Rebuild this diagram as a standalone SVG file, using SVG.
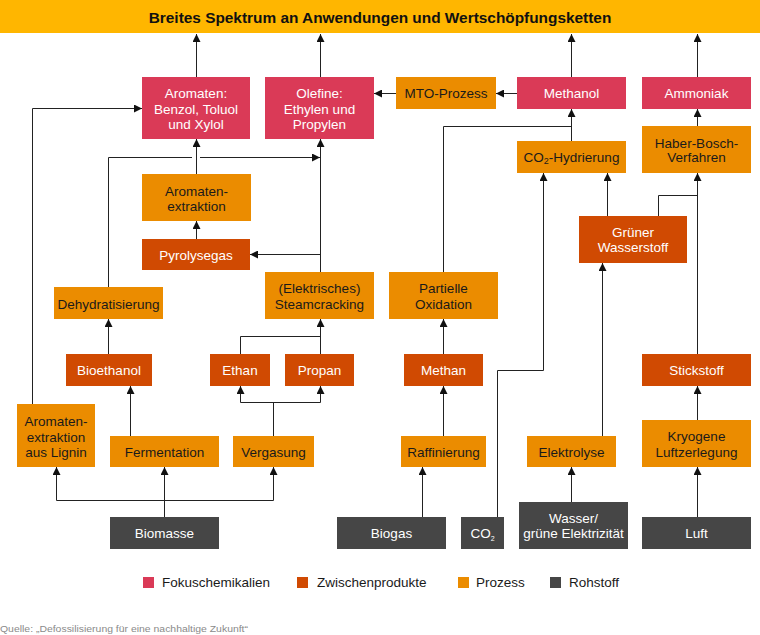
<svg xmlns="http://www.w3.org/2000/svg" width="760" height="635" viewBox="0 0 760 635">
<defs>
<marker id="ah" viewBox="0 0 8 8" refX="8" refY="4" markerWidth="8" markerHeight="8" markerUnits="userSpaceOnUse" orient="auto">
<path d="M0,0 L8,4 L0,8 z" fill="#111"/>
</marker>
<style>
text{font-family:"Liberation Sans",Arial,sans-serif;font-size:13.5px;text-anchor:middle}
.fo{fill:#DA3A57}
.zw{fill:#D04A02}
.pr{fill:#EB8C00}
.ro{fill:#464646}
.w{fill:#fff}
.d{fill:#1a1a1a}
#connectors path{fill:none;stroke:#222;stroke-width:1}
.arr{marker-end:url(#ah)}
</style>
</defs>
<rect x="0" y="0" width="760" height="33" fill="#FFB600"/>
<text x="380" y="22.5" style="font-size:15.4px;font-weight:bold" fill="#111">Breites Spektrum an Anwendungen und Wertschöpfungsketten</text>

<g id="connectors">
<path class="arr" d="M196.5,77 V34"/>
<path class="arr" d="M320.5,77 V34"/>
<path class="arr" d="M571.5,77 V34"/>
<path class="arr" d="M697.5,77 V34"/>
<path class="arr" d="M396,93.5 H374"/>
<path class="arr" d="M517,93.5 H496"/>
<path class="arr" d="M571.5,141 V109"/>
<path d="M443.5,272 V126.5 H571.5"/>
<path class="arr" d="M697.5,126 V109"/>
<path class="arr" d="M607.5,216 V173"/>
<path d="M658.5,216 V195.5 H697.5"/>
<path class="arr" d="M697.5,354 V173"/>
<path class="arr" d="M497.5,517 V370.5 H543.5 V173"/>
<path class="arr" d="M602.5,436 V263"/>
<path class="arr" d="M571.5,502 V467"/>
<path class="arr" d="M697.5,517 V467"/>
<path class="arr" d="M697.5,420 V386"/>
<path class="arr" d="M422.5,517 V467"/>
<path class="arr" d="M443.5,436 V386"/>
<path class="arr" d="M443.5,354 V319"/>
<path class="arr" d="M196.5,174 V139"/>
<path class="arr" d="M196.5,239 V221"/>
<path class="arr" d="M320.5,272 V139"/>
<path class="arr" d="M320.5,254.5 H250"/>
<path d="M108.5,287 V157.5 H192"/>
<path class="arr" d="M200,157.5 H320"/>
<path class="arr" d="M32.5,404 V108.5 H142"/>
<path class="arr" d="M108.5,354 V319"/>
<path class="arr" d="M130.5,436 V386"/>
<path d="M240.5,354 V336.5 H320.5"/>
<path class="arr" d="M320.5,354 V319"/>
<path d="M273.5,436 V402.5"/>
<path d="M240.5,402.5 H320.5"/>
<path class="arr" d="M240.5,402.5 V386"/>
<path class="arr" d="M320.5,402.5 V386"/>
<path class="arr" d="M164.5,517 V467"/>
<path d="M56.5,500.5 H273.5"/>
<path class="arr" d="M56.5,500.5 V467"/>
<path class="arr" d="M273.5,500.5 V467"/>
</g>

<g id="aromaten"><rect class="fo" x="142" y="77" width="108" height="62"/>
<text class="w" x="196" y="98">Aromaten:</text><text class="w" x="196" y="113.5">Benzol, Toluol</text><text class="w" x="196" y="129">und Xylol</text></g>
<g id="olefine"><rect class="fo" x="265" y="77" width="109" height="62"/>
<text class="w" x="319.5" y="98">Olefine:</text><text class="w" x="319.5" y="113.5">Ethylen und</text><text class="w" x="319.5" y="129">Propylen</text></g>
<g id="mto"><rect class="pr" x="396" y="77" width="100" height="32"/>
<text class="d" x="446" y="98">MTO-Prozess</text></g>
<g id="methanol"><rect class="fo" x="517" y="77" width="109" height="32"/>
<text class="w" x="571.5" y="98">Methanol</text></g>
<g id="ammoniak"><rect class="fo" x="642" y="77" width="109" height="32"/>
<text class="w" x="696.5" y="98">Ammoniak</text></g>
<g id="co2hydrierung"><rect class="pr" x="517" y="141" width="109" height="32"/>
<text class="d" x="571.5" y="162">CO<tspan style="font-size:9px" dy="2">2</tspan><tspan dy="-2">-Hydrierung</tspan></text></g>
<g id="haberbosch"><rect class="pr" x="642" y="126" width="109" height="47"/>
<text class="d" x="696.5" y="147.5">Haber-Bosch-</text><text class="d" x="696.5" y="162">Verfahren</text></g>
<g id="aromatenextraktion"><rect class="pr" x="142" y="174" width="109" height="47"/>
<text class="d" x="196.5" y="196">Aromaten-</text><text class="d" x="196.5" y="210.5">extraktion</text></g>
<g id="pyrolysegas"><rect class="zw" x="142" y="239" width="108" height="31"/>
<text class="w" x="196" y="259.5">Pyrolysegas</text></g>
<g id="gruenerwasserstoff"><rect class="zw" x="579" y="216" width="108" height="47"/>
<text class="w" x="633" y="236.5">Grüner</text><text class="w" x="633" y="252">Wasserstoff</text></g>
<g id="dehydratisierung"><rect class="pr" x="54" y="287" width="109" height="32"/>
<text class="d" x="108.5" y="308.5">Dehydratisierung</text></g>
<g id="steamcracking"><rect class="pr" x="265" y="272" width="109" height="47"/>
<text class="d" x="319.5" y="293">(Elektrisches)</text><text class="d" x="319.5" y="308.5">Steamcracking</text></g>
<g id="partielleoxidation"><rect class="pr" x="389" y="272" width="109" height="47"/>
<text class="d" x="443.5" y="292.5">Partielle</text><text class="d" x="443.5" y="308.5">Oxidation</text></g>
<g id="bioethanol"><rect class="zw" x="66" y="354" width="86" height="32"/>
<text class="w" x="109" y="375">Bioethanol</text></g>
<g id="ethan"><rect class="zw" x="210" y="354" width="60" height="32"/>
<text class="w" x="240" y="375">Ethan</text></g>
<g id="propan"><rect class="zw" x="285" y="354" width="69" height="32"/>
<text class="w" x="319.5" y="375">Propan</text></g>
<g id="methan"><rect class="zw" x="404" y="354" width="79" height="32"/>
<text class="w" x="443.5" y="375">Methan</text></g>
<g id="stickstoff"><rect class="zw" x="642" y="354" width="109" height="32"/>
<text class="w" x="696.5" y="375">Stickstoff</text></g>
<g id="lignin"><rect class="pr" x="17" y="404" width="78" height="63"/>
<text class="d" x="56" y="426">Aromaten-</text><text class="d" x="56" y="441.5">extraktion</text><text class="d" x="56" y="457">aus Lignin</text></g>
<g id="fermentation"><rect class="pr" x="110" y="436" width="109" height="31"/>
<text class="d" x="164.5" y="457">Fermentation</text></g>
<g id="vergasung"><rect class="pr" x="233" y="436" width="81" height="31"/>
<text class="d" x="273.5" y="457">Vergasung</text></g>
<g id="raffinierung"><rect class="pr" x="401" y="436" width="85" height="31"/>
<text class="d" x="443.5" y="457">Raffinierung</text></g>
<g id="elektrolyse"><rect class="pr" x="527" y="436" width="89" height="31"/>
<text class="d" x="571.5" y="457">Elektrolyse</text></g>
<g id="kryogene"><rect class="pr" x="642" y="420" width="109" height="47"/>
<text class="d" x="696.5" y="441">Kryogene</text><text class="d" x="696.5" y="456.5">Luftzerlegung</text></g>
<g id="biomasse"><rect class="ro" x="110" y="517" width="109" height="32"/>
<text class="w" x="164.5" y="538">Biomasse</text></g>
<g id="biogas"><rect class="ro" x="337" y="517" width="109" height="32"/>
<text class="w" x="391.5" y="538">Biogas</text></g>
<g id="co2"><rect class="ro" x="461" y="517" width="43" height="32"/>
<text class="w" x="482.5" y="538">CO<tspan style="font-size:7px" dy="3">2</tspan></text></g>
<g id="wasser"><rect class="ro" x="519" y="502" width="109" height="47"/>
<text class="w" x="573.5" y="523">Wasser/</text><text class="w" x="573.5" y="538">grüne Elektrizität</text></g>
<g id="luft"><rect class="ro" x="642" y="517" width="109" height="32"/>
<text class="w" x="696.5" y="538">Luft</text></g>

<g id="legend">
<rect class="fo" x="143" y="577" width="11" height="11"/>
<text class="d" x="162" y="587" style="text-anchor:start">Fokuschemikalien</text>
<rect class="zw" x="297" y="577" width="11" height="11"/>
<text class="d" x="317" y="587" style="text-anchor:start">Zwischenprodukte</text>
<rect class="pr" x="458" y="577" width="11" height="11"/>
<text class="d" x="476" y="587" style="text-anchor:start">Prozess</text>
<rect class="ro" x="550" y="577" width="11" height="11"/>
<text class="d" x="569" y="587" style="text-anchor:start">Rohstoff</text>
</g>
<text x="0" y="632" style="text-anchor:start;font-size:9.5px" fill="#8a8a8a" textLength="248" lengthAdjust="spacingAndGlyphs">Quelle: „Defossilisierung für eine nachhaltige Zukunft“</text>
</svg>
